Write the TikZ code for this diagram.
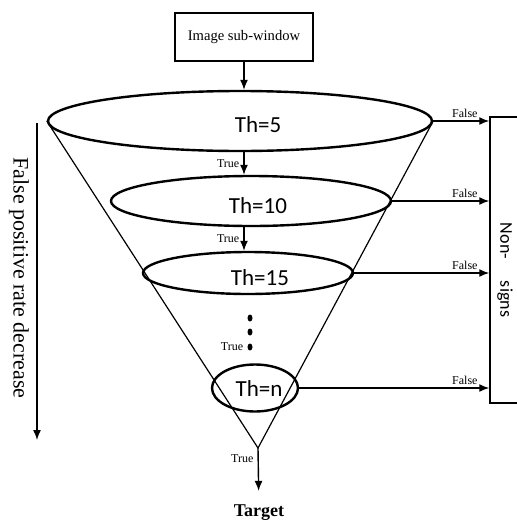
\documentclass[tikz,border=0pt]{standalone}
\usepackage{fontspec}
\setmainfont{Liberation Serif}
\newfontfamily\thfont{Carlito}
\usetikzlibrary{arrows.meta,positioning,shapes.geometric}

\begin{document}
\begin{tikzpicture}[>=Latex,x=1pt,y=-1pt]
  \tikzstyle{lvl}=[draw,ellipse,line width=2.4pt,inner sep=0pt]
  \tikzstyle{th}=[font=\thfont\fontsize{23}{26}\selectfont,inner sep=0pt]
  \tikzstyle{flow}=[line width=1.4pt,->,>={Latex[length=10pt,width=8pt]}]
  \tikzstyle{small}=[font=\fontsize{12}{14}\selectfont,inner sep=1pt]
  \tikzstyle{dot}=[fill,ellipse,minimum width=5pt,minimum height=7pt,inner sep=0pt]
  \clip (0,0) rectangle (517,523);
  \node[draw,line width=1.5pt,minimum width=138pt,minimum height=48pt,font=\fontsize{14.6}{16}\selectfont] (win) at (244,37) {Image sub-window};
  \node[lvl,minimum width=384pt,minimum height=60pt] (e1) at (240,121) {};
  \node[lvl,minimum width=280pt,minimum height=50pt] (e2) at (251,201) {};
  \node[lvl,minimum width=210pt,minimum height=42pt] (e3) at (248,273) {};
  \node[lvl,minimum width=86pt,minimum height=47pt] (e4) at (255,388) {};
  \coordinate (apex) at (258,448);
  \draw[line width=1.2pt] (e1.west) -- (apex) -- (e1.east);
  \node[th] (t1) at (258,125) {Th=5};
  \node[th] (t2) at (258,206) {Th=10};
  \node[th] (t3) at (260,278) {Th=15};
  \node[th] (t4) at (259,389) {Th=n};
  \node[draw,line width=1.5pt,minimum width=50pt,minimum height=286pt] (nsbox) at (515,260) {};
  \node[rotate=-90,font=\thfont\fontsize{18}{20}\selectfont,inner sep=0pt] (nstxt) at (505,270) {Non-\hspace{22pt}signs};
  \node[dot] (d1) at (250,318) {};
  \node[dot] (d2) at (250,332) {};
  \node[dot] (d3) at (250,347) {};
  \node[small,left=3pt of d3] (tr3) {True};
  \node[font=\bfseries\fontsize{18}{20}\selectfont,inner sep=2pt] (tgt) at (259,513) {Target};
  \coordinate (fp1) at (37,123);
  \coordinate (fp2) at (37,440);
  \node[rotate=-90,font=\fontsize{22}{24}\selectfont,inner sep=0pt] (fpr) at (19,278) {False positive rate decrease};
  \draw[flow] (fp1) -- (fp2);
  \draw[flow] (win) -- (win |- e1.north);
  \draw[flow] (e1.south -| win) -- (e2.north -| win) node[small,midway,left,xshift=-3pt]{True};
  \draw[flow] (e2.south -| win) -- (e3.north -| win) node[small,midway,left,xshift=-3pt]{True};
  \draw[flow,shorten >=12pt] (apex) -- (tgt) node[small,pos=0.2,left,xshift=-3pt]{True};
  \draw[flow] (e1.east) -- (e1.east -| nsbox.west) node[small,anchor=south east,xshift=-10pt,yshift=2pt]{False};
  \draw[flow] (e2.east) -- (e2.east -| nsbox.west) node[small,anchor=south east,xshift=-10pt,yshift=2pt]{False};
  \draw[flow] (e3.east) -- (e3.east -| nsbox.west) node[small,anchor=south east,xshift=-10pt,yshift=2pt]{False};
  \draw[flow] (e4.east) -- (e4.east -| nsbox.west) node[small,anchor=south east,xshift=-10pt,yshift=2pt]{False};
\end{tikzpicture}
\end{document}
